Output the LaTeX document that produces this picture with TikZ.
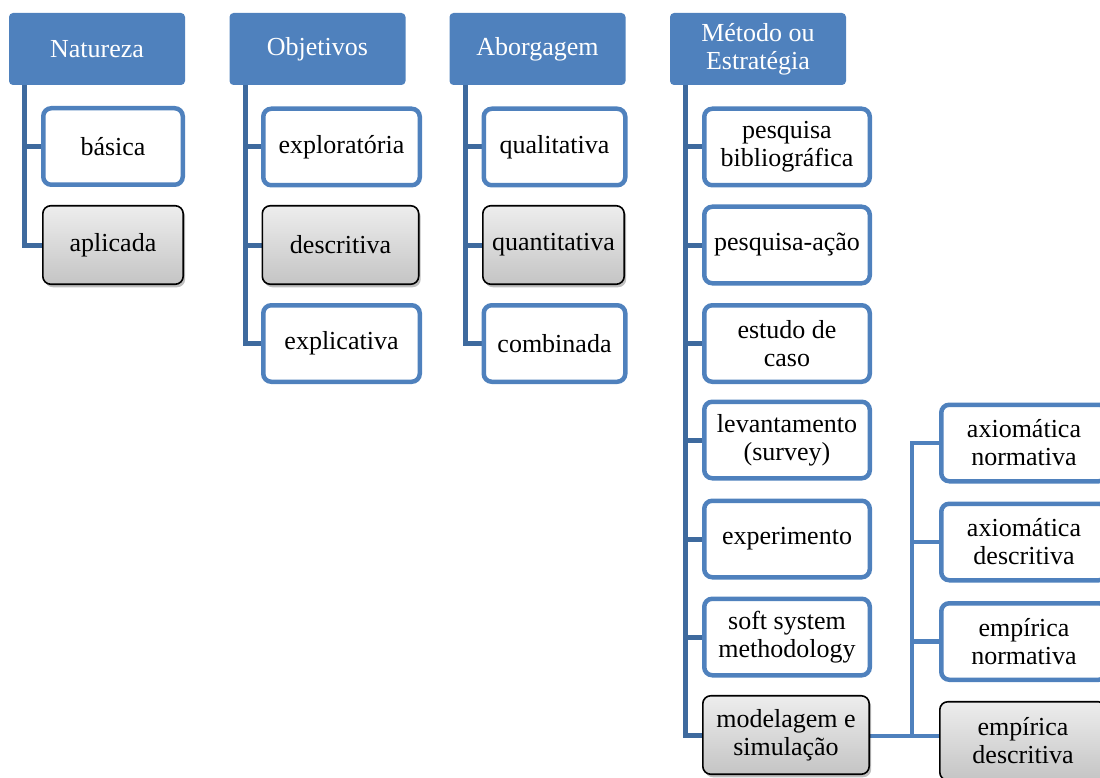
\documentclass[tikz,border=0pt]{standalone}
\usepackage{fontspec}
\setmainfont{Liberation Serif}
\usetikzlibrary{shadows,backgrounds}
\definecolor{accent}{HTML}{4F81BD}
\definecolor{linkblue}{HTML}{3E6A9E}
\begin{document}
\begin{tikzpicture}[x=1pt,y=-1pt,
  every node/.style={font=\rmfamily\fontsize{26}{28}\selectfont, align=center, inner sep=0pt},
  head/.style={fill=accent, text=white, rounded corners=4pt,
    minimum width=176pt, minimum height=72pt},
  leaf/.style={draw=accent, line width=4.5pt, fill=white, rounded corners=8pt,
    minimum width=#1-4.5pt, minimum height=76.5pt},
  pick/.style={draw=black, line width=1.6pt, top color=black!7, bottom color=black!23,
    rounded corners=8pt, minimum width=#1-1.6pt, minimum height=78.5pt,
    drop shadow={shadow xshift=2pt, shadow yshift=-3pt, opacity=0.25, fill=black}},
  link/.style={draw=linkblue, line width=5pt},
  sublink/.style={draw=accent, line width=4.5pt}]

\useasboundingbox (0,0) rectangle (1100,778);

% column headers
\node[head] (hN) at (97,49)    {Natureza};
\node[head] (hO) at (317.5,49) {Objetivos};
\node[head] (hA) at (537.5,49) {Aborgagem};
\node[head] (hM) at (758,49)   {Método ou\\Estratégia};

% Natureza
\node[leaf=144pt] (n1) at (113,146.5) {básica};
\node[pick=142pt] (n2) at (113,245)   {aplicada};

% Objetivos
\node[leaf=161pt] (o1) at (341.5,147)   {exploratória};
\node[pick=158pt] (o2) at (340.5,245)   {descritiva};
\node[leaf=161pt] (o3) at (341.5,343.5) {explicativa};

% Aborgagem
\node[leaf=146pt] (a1) at (554.5,147)   {qualitativa};
\node[pick=143pt] (a2) at (553.5,245)   {quantitativa};
\node[leaf=146pt] (a3) at (554.5,343.5) {combinada};

% Método ou Estratégia
\node[leaf=170pt] (m1) at (787,147)   {pesquisa\\bibliográfica};
\node[leaf=170pt] (m2) at (787,245)   {pesquisa-ação};
\node[leaf=170pt] (m3) at (787,343.5) {estudo de\\caso};
\node[leaf=170pt] (m4) at (787,440)   {levantamento\\(survey)};
\node[leaf=170pt] (m5) at (787,539)   {experimento};
\node[leaf=170pt] (m6) at (787,637)   {soft system\\methodology};
\node[pick=168pt] (m7) at (786,735)   {modelagem e\\simulação};

% modelagem e simulação: variants
\node[leaf=170pt] (s1) at (1024,443)   {axiomática\\normativa};
\node[leaf=170pt] (s2) at (1024,542)   {axiomática\\descritiva};
\node[leaf=170pt] (s3) at (1024,641.5) {empírica\\normativa};
\node[pick=168pt] (s4) at (1023,741)   {empírica\\descritiva};

\coordinate (fork) at (912,736);

\begin{scope}[on background layer]
  \draw[link] ([xshift=16pt]hN.south west) |- (n1.west);
  \draw[link] ([xshift=16pt]hN.south west) |- (n2.west);

  \draw[link] ([xshift=16pt]hO.south west) |- (o1.west);
  \draw[link] ([xshift=16pt]hO.south west) |- (o2.west);
  \draw[link] ([xshift=16pt]hO.south west) |- (o3.west);

  \draw[link] ([xshift=16pt]hA.south west) |- (a1.west);
  \draw[link] ([xshift=16pt]hA.south west) |- (a2.west);
  \draw[link] ([xshift=16pt]hA.south west) |- (a3.west);

  \foreach \k in {m1,m2,m3,m4,m5,m6,m7}
    \draw[link] ([xshift=16pt]hM.south west) |- (\k.west);

  \draw[sublink] (fork -| m7.east) -- (fork -| s4.west);
  \draw[sublink] (fork) |- (s1.west);
  \draw[sublink] (fork) |- (s2.west);
  \draw[sublink] (fork) |- (s3.west);
\end{scope}
\end{tikzpicture}
\end{document}
